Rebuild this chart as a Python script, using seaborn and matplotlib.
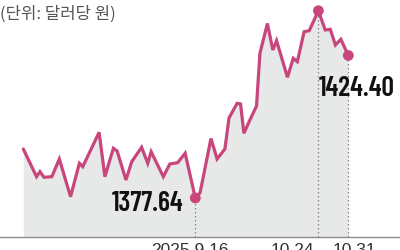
import matplotlib
matplotlib.use("Agg")
import matplotlib.pyplot as plt
from matplotlib import font_manager as fm
from matplotlib.textpath import TextPath
import seaborn as sns
import pandas as pd

# Data (positions in days from the first point, KRW per USD)
day_pos = [0, 3.9, 4.9, 6.1, 8.4, 10.6, 13.9, 16.5, 17.5, 22.3, 24.0, 26.5, 27.6,
           30.2, 31.9, 34.8, 36.6, 37.6, 41.2, 43.1, 45.4, 47.6, 50.6, 52.0, 55.2,
           57.0, 59.3, 60.5, 62.9, 63.9, 64.9, 66.2, 68.6, 69.6, 71.8, 73.4, 74.5,
           77.7, 79.4, 80.6, 82.6, 84.1, 86.8, 88.8, 90.3, 91.8, 93.4, 95.6]
rate = [1393.72, 1384.63, 1386.27, 1384.43, 1384.63, 1390.44, 1378.07, 1389.03,
        1387.91, 1399.20, 1384.63, 1393.95, 1393.06, 1383.55, 1389.55, 1394.27,
        1389.03, 1392.83, 1384.63, 1388.80, 1389.22, 1392.31, 1377.64, 1379.38,
        1397.16, 1390.44, 1393.72, 1403.89, 1408.71, 1408.48, 1398.87, 1402.15,
        1407.83, 1425.12, 1434.89, 1426.20, 1429.25, 1417.24, 1423.48, 1422.36,
        1432.20, 1432.53, 1439.09, 1432.76, 1432.99, 1427.84, 1429.71, 1424.40]

mark_days = [50.6, 86.8, 95.6]
mark_rates = [1377.64, 1439.09, 1424.40]
mark_labels = ["2025.9.16", "10.24", "10.31"]
low_label = "1377.64"
last_label = "1424.40"
unit_label = "(단위: 달러당 원)"

LINE = "#c8467c"
FILL = "#e7e8e8"

sns.set_style("white")
plt.rcParams["font.family"] = ["Noto Sans CJK KR", "DejaVu Sans"]


def pick_number_font(sample, target_ratio, target_h_px):
    """Choose the installed bold-ish sans face whose ink shape best fits."""
    best = None
    seen = set()
    for f in fm.fontManager.ttflist:
        if f.fname in seen:
            continue
        seen.add(f.fname)
        nm = f.name.lower()
        if any(k in nm for k in ("serif", "mono", "cjk", "math", "symbol", "emoji",
                                 "cmr", "cmex", "cmsy", "cmmi", "cmtt", "stix")):
            continue
        if f.style != "normal":
            continue
        w = f.weight if isinstance(f.weight, (int, float)) else 400
        if w < 500 or w > 800:
            continue
        try:
            prop = fm.FontProperties(fname=f.fname)
            ext = TextPath((0, 0), sample, size=100, prop=prop).get_extents()
        except Exception:
            continue
        if ext.height <= 0:
            continue
        ratio = ext.width / ext.height
        score = abs(ratio - target_ratio) + abs(w - 650) / 2000.0
        if best is None or score < best[0]:
            best = (score, f.fname, ext.height)
    if best is None:
        return fm.FontProperties(family="DejaVu Sans", weight="bold", size=19)
    size_px = target_h_px * 100.0 / best[2]
    return fm.FontProperties(fname=best[1], size=size_px * 72.0 / 100.0)


num_prop = pick_number_font(last_label, 75.0 / 20.0, 20.0)

fig = plt.figure(figsize=(4, 2.5), dpi=100)
ax = fig.add_axes([0, 13 / 250, 1, 237 / 250])

df = pd.DataFrame({"day": day_pos, "rate": rate})
y0 = 1364.84
ax.fill_between(df["day"], df["rate"], y0, color=FILL, lw=0, zorder=1)

for d, r in zip(mark_days, mark_rates):
    ax.plot([d, d], [y0, r], color="#8a8a8a", lw=0.9, ls=(0, (1.2, 2.0)), zorder=2)

sns.lineplot(data=df, x="day", y="rate", ax=ax, color=LINE, lw=2.3,
             solid_joinstyle="miter", zorder=3)
pts = pd.DataFrame({"day": mark_days, "rate": mark_rates})
sns.scatterplot(data=pts, x="day", y="rate", ax=ax, color=LINE, s=60,
                edgecolor="none", zorder=4)

ax.set_xlim(-6.85, 110.8)
ax.set_ylim(y0, 1442.6)
for s in ["top", "left", "right"]:
    ax.spines[s].set_visible(False)
ax.spines["bottom"].set_color("#8c8c8c")
ax.spines["bottom"].set_linewidth(1.0)
ax.set_xticks([])
ax.set_yticks([])
ax.set_xlabel("")
ax.set_ylabel("")

ax.text(mark_days[0] - 3.6, mark_rates[0] - 4.3, low_label, ha="right",
        va="baseline", fontproperties=num_prop, color="#111111")
ax.text(mark_days[1] + 0.1, 1411.0, last_label, ha="left", va="baseline",
        fontproperties=num_prop, color="#111111")

fig.text(0.0, 1 - 6 / 250, unit_label, ha="left", va="top", fontsize=12,
         color="#555555")

lab_font = dict(fontsize=12.5, color="#333333", va="top",
                family=["Liberation Sans", "DejaVu Sans"])
ax.annotate(mark_labels[0], (mark_days[0], y0), xytext=(-4, -4),
            textcoords="offset points", ha="center", annotation_clip=False, **lab_font)
ax.annotate(mark_labels[1], (mark_days[1], y0), xytext=(-3, -4),
            textcoords="offset points", ha="right", annotation_clip=False, **lab_font)
ax.annotate(mark_labels[2], (mark_days[2], y0), xytext=(-11, -4),
            textcoords="offset points", ha="left", annotation_clip=False, **lab_font)

fig.savefig("out.png", dpi=100)
